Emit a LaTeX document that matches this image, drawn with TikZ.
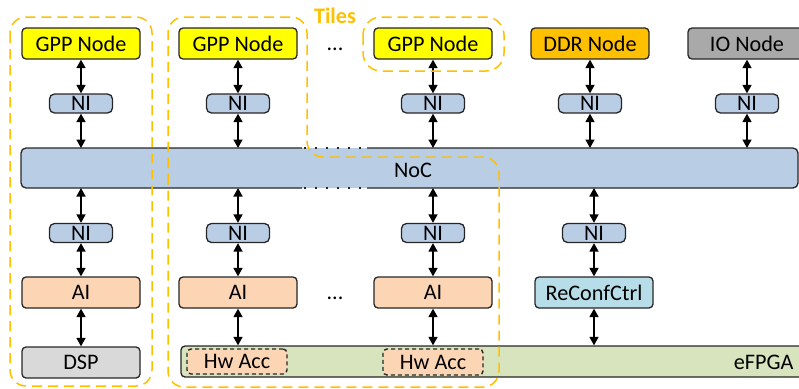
\documentclass[tikz,border=0pt]{standalone}
\usepackage{fontspec}
\setmainfont{Carlito}
\usetikzlibrary{arrows.meta}
\definecolor{gppY}{HTML}{FFFF00}
\definecolor{ddrC}{HTML}{FFC000}
\definecolor{ioC}{HTML}{A9A9A9}
\definecolor{niC}{HTML}{B9CDE5}
\definecolor{aiC}{HTML}{FCD5B5}
\definecolor{rccC}{HTML}{B7DEE8}
\definecolor{dspC}{HTML}{D9D9D9}
\definecolor{fpgaC}{HTML}{D7E4BD}
\definecolor{tileC}{HTML}{FFC000}
\definecolor{bordc}{HTML}{262626}
\begin{document}
\begin{tikzpicture}[x=1pt,y=-1pt,
  font=\fontsize{22.2}{26}\selectfont,
  box/.style={draw=bordc, line width=1.3pt, rounded corners=4pt, inner sep=0pt,
    minimum width=118pt, minimum height=31pt},
  nibox/.style={box, fill=niC, minimum width=63pt, minimum height=19pt, rounded corners=5pt},
  hwbox/.style={box, fill=aiC, line width=1.4pt, dash pattern=on 4pt off 3pt, minimum width=100pt, minimum height=25pt},
  biarrow/.style={{Triangle[length=8.5pt,width=9pt]}-{Triangle[length=8.5pt,width=9pt]}, line width=1.6pt, draw=black},
  tile/.style={draw=tileC, line width=1.5pt, dash pattern=on 10pt off 6pt, rounded corners=16pt},
  nocborder/.style={draw=bordc, line width=1.3pt}]
\useasboundingbox (0,0) rectangle (799,388);

% NoC and eFPGA backgrounds
\node[fill=niC, rounded corners=5pt, inner sep=0pt, outer sep=0pt,
  minimum width=777pt, minimum height=40pt] (noc) at (409.5,168) {};
\draw[nocborder, rounded corners=5pt] (302,148) -- (noc.north west) -- (noc.south west) -- (302,188);
\draw[nocborder, rounded corners=5pt] (367,148) -- (noc.north east) -- (noc.south east) -- (367,188);
\draw[nocborder, dash pattern=on 1.5pt off 9.5pt] (304,148) -- (367,148) (304,188) -- (367,188);
\node (noclabel) at (413,170) {NoC};

\node[box, fill=fpgaC, minimum width=634pt] (fpga) at (498,361.5) {};
\node[anchor=east] (fpgalabel) at (797,362) {eFPGA};
\node[hwbox] (hw1) at (237,361.5) {Hw Acc};
\node[hwbox, minimum height=26pt] (hw2) at (433,362) {Hw Acc};

% top row
\node[box, fill=gppY] (gpp1) at (81,43.5) {GPP Node};
\node[box, fill=gppY] (gpp2) at (238,43.5) {GPP Node};
\node[box, fill=gppY] (gpp3) at (433,43.5) {GPP Node};
\node[box, fill=ddrC] (ddr) at (590,43.5) {DDR Node};
\node[box, fill=ioC] (io) at (747,43.5) {IO Node};

\node[nibox] (ni1) at (81,103.5) {NI};
\node[nibox] (ni2) at (238,103.5) {NI};
\node[nibox] (ni3) at (433,103.5) {NI};
\node[nibox] (ni4) at (590,103.5) {NI};
\node[nibox] (ni5) at (747,103.5) {NI};

% lower part
\node[nibox] (nl1) at (81,233) {NI};
\node[nibox] (nl2) at (238,233) {NI};
\node[nibox] (nl3) at (433,233) {NI};
\node[nibox] (nl4) at (594,233) {NI};

\node[box, fill=aiC] (ai1) at (81,292.5) {AI};
\node[box, fill=aiC] (ai2) at (238,292.5) {AI};
\node[box, fill=aiC] (ai3) at (433,292.5) {AI};
\node[box, fill=rccC] (rcc) at (594,292.5) {ReConfCtrl};
\node[box, fill=dspC] (dsp) at (81,362.5) {DSP};

\node (dots1) at (335,49) {...};
\node (dots2) at (335,298) {...};

% arrows
\foreach \g/\n in {gpp1/ni1, gpp2/ni2, gpp3/ni3, ddr/ni4, io/ni5} {
  \draw[biarrow] (\g) -- (\n);
  \draw[biarrow] (\n.south) -- (\n.south |- noc.north);
}
\foreach \n/\a in {nl1/ai1, nl2/ai2, nl3/ai3, nl4/rcc} {
  \draw[biarrow] (\n.north |- noc.south) -- (\n.north);
  \draw[biarrow] (\n) -- (\a);
}
\draw[biarrow] (ai1) -- (dsp);
\draw[biarrow] (ai2.south) -- (ai2.south |- fpga.north);
\draw[biarrow] (ai3.south) -- (ai3.south |- fpga.north);
\draw[biarrow] (rcc.south) -- (rcc.south |- fpga.north);

% tile outlines
\draw[tile] (10,17) rectangle (152,386);
\draw[tile] (168,200) -- (168,17) -- (307,17) -- (307,157) -- (499,157) -- (499,387) -- (168,387) -- cycle;
\draw[tile, rounded corners=18pt] (363,17) rectangle (504,71);
\node[text=tileC, font=\fontsize{22.2}{26}\selectfont\bfseries] (tiles) at (335,16) {Tiles};
\end{tikzpicture}
\end{document}
